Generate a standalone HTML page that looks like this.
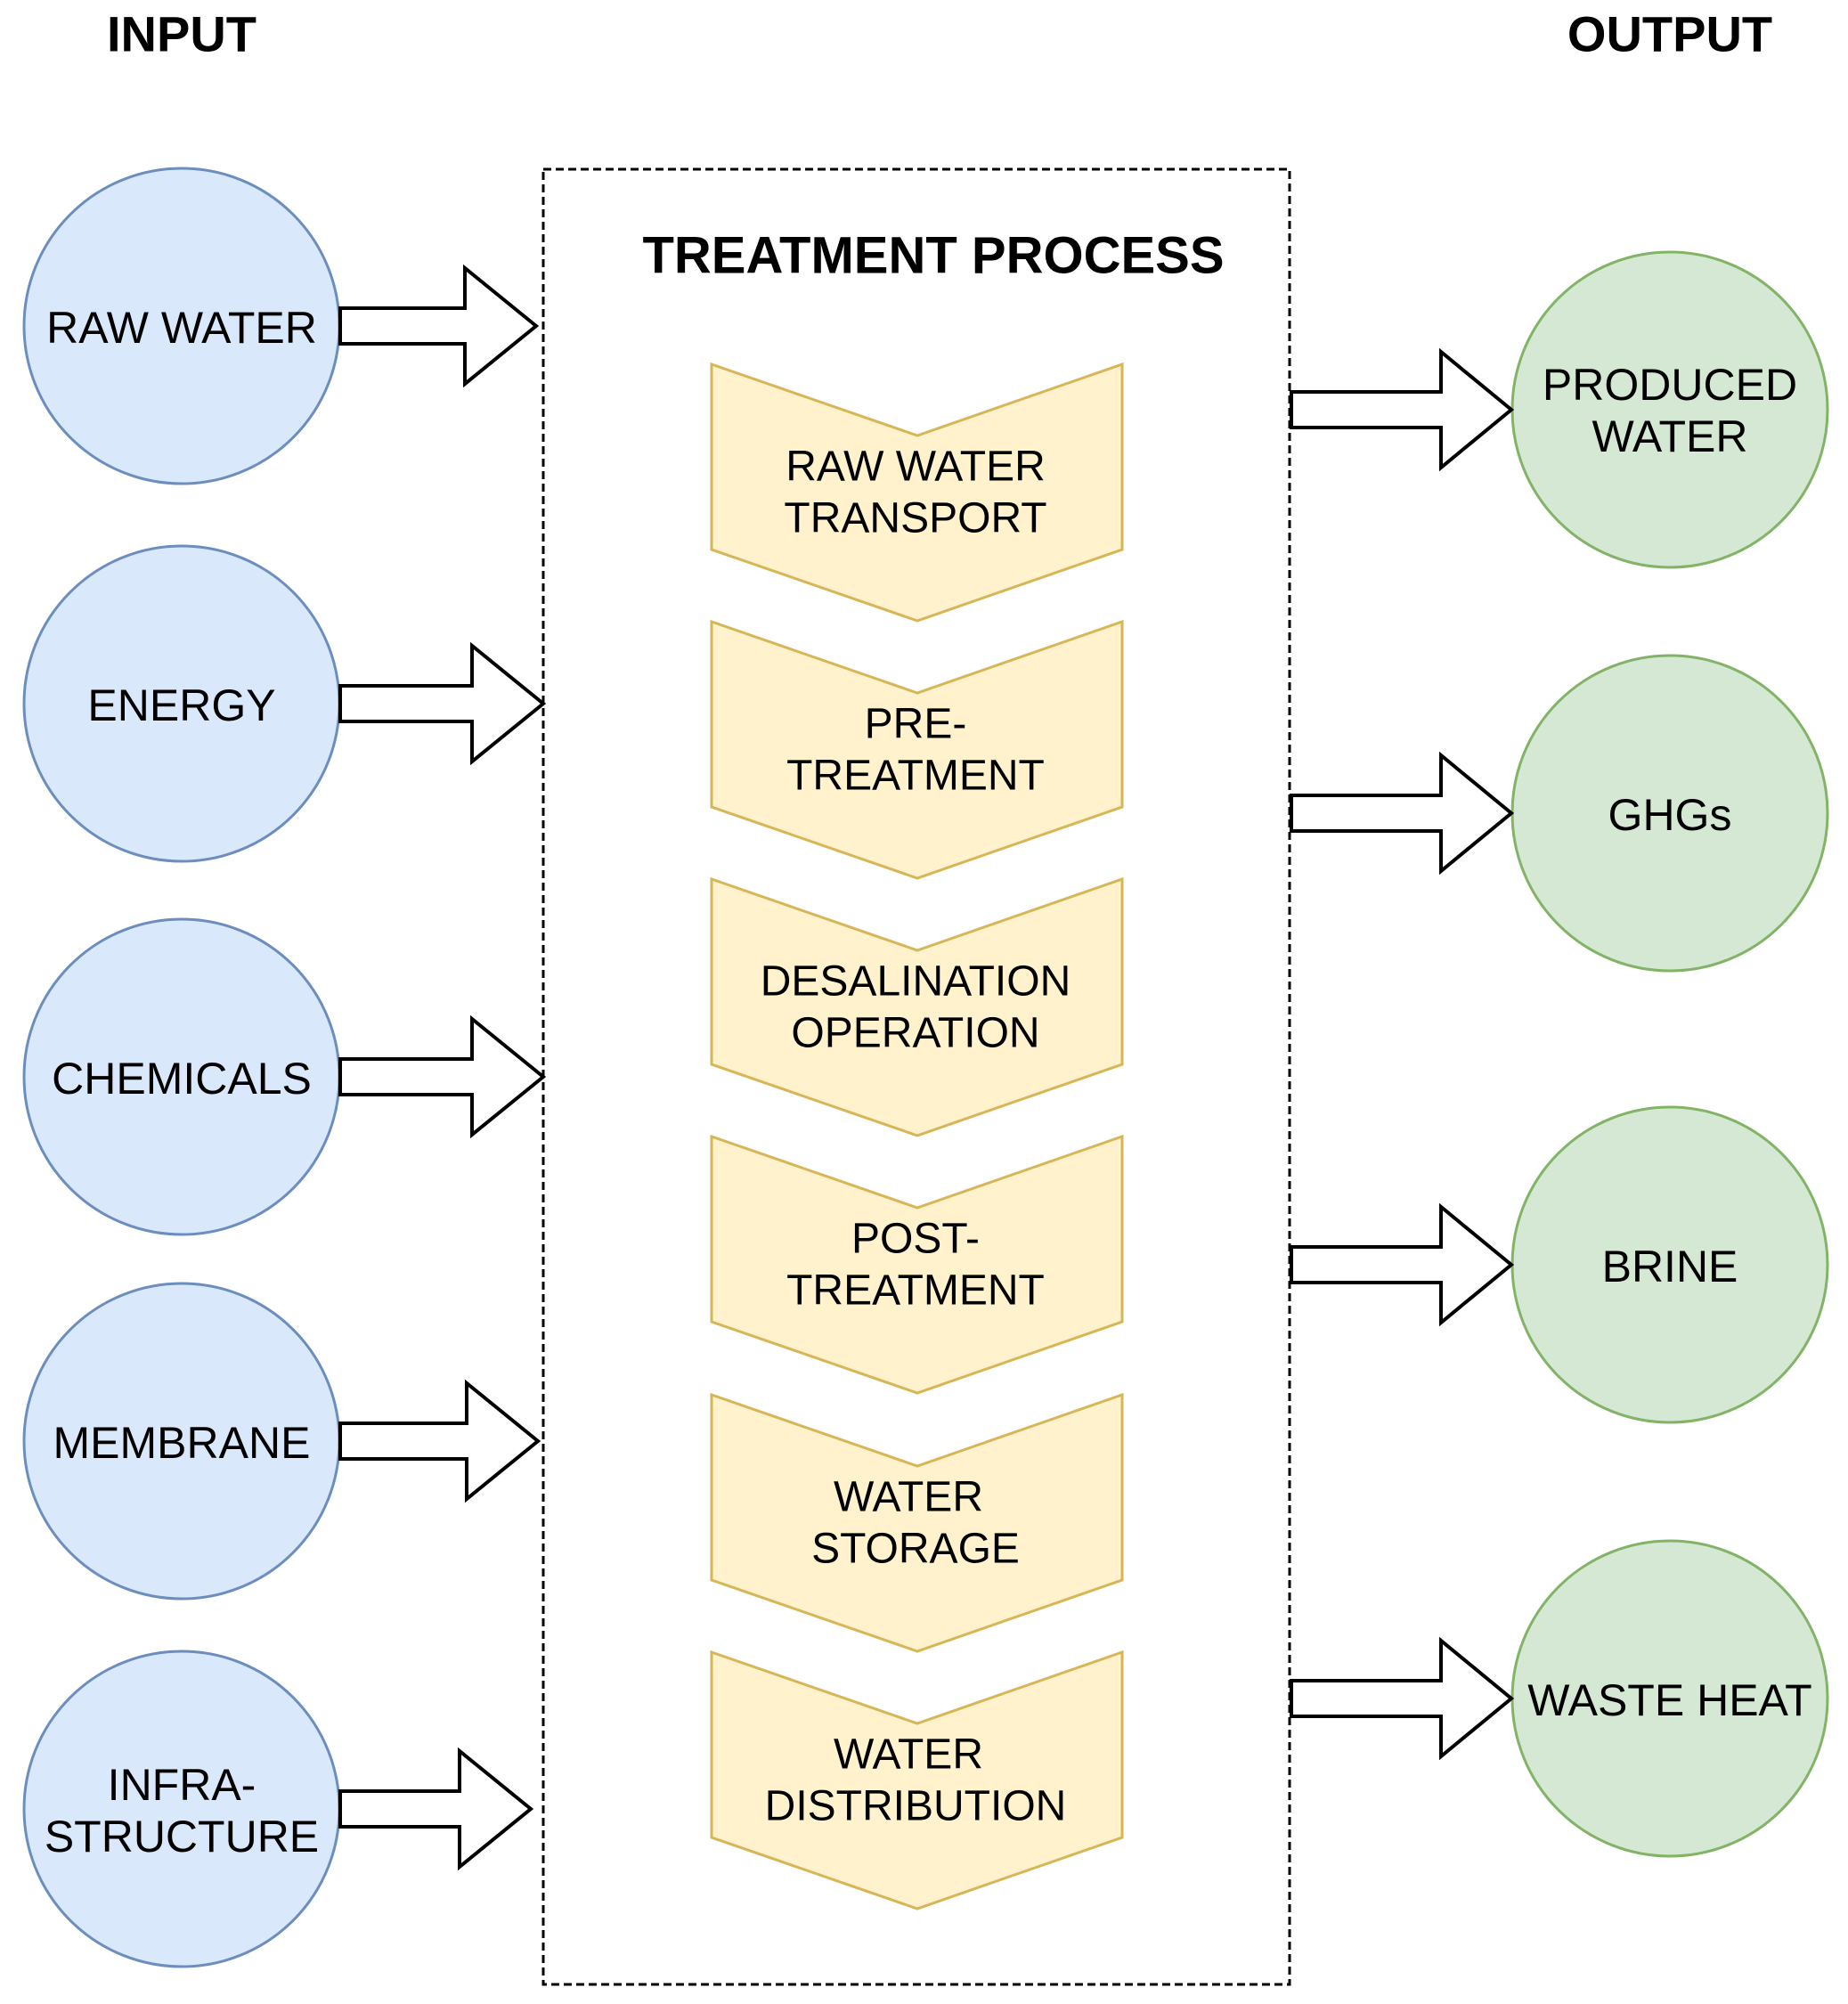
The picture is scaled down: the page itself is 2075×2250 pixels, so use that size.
<!DOCTYPE html>
<html><head><meta charset="utf-8"><style>
html,body{margin:0;padding:0;background:#fff}
svg{display:block}
text{font-family:"Liberation Sans",Arial,sans-serif;fill:#000;text-anchor:middle;dominant-baseline:central}
</style></head><body>
<svg width="2075" height="2250" viewBox="0 0 2075 2250" xmlns="http://www.w3.org/2000/svg">
<text x="204" y="38" font-size="56" font-weight="bold">INPUT</text>
<text x="1875" y="38" font-size="56" font-weight="bold">OUTPUT</text>
<rect x="610" y="190" width="838" height="2038" fill="none" stroke="#000" stroke-width="3" stroke-dasharray="9,5"/>
<text x="1048" y="287" font-size="58" font-weight="bold">TREATMENT PROCESS</text>

<g fill="#dae8fc" stroke="#6c8ebf" stroke-width="3">
<circle cx="204" cy="366" r="177"/>
<circle cx="204" cy="790" r="177"/>
<circle cx="204" cy="1209" r="177"/>
<circle cx="204" cy="1618" r="177"/>
<circle cx="204" cy="2031" r="177"/>
</g>
<g font-size="50">
<text x="204" y="368">RAW WATER</text>
<text x="204" y="792">ENERGY</text>
<text x="204" y="1211">CHEMICALS</text>
<text x="204" y="1620">MEMBRANE</text>
<text x="204" y="2004">INFRA-</text>
<text x="204" y="2062">STRUCTURE</text>
</g>

<g fill="#d5e8d4" stroke="#82b366" stroke-width="3">
<circle cx="1875" cy="460" r="177"/>
<circle cx="1875" cy="913" r="177"/>
<circle cx="1875" cy="1420" r="177"/>
<circle cx="1875" cy="1907" r="177"/>
</g>
<g font-size="50">
<text x="1875" y="432">PRODUCED</text>
<text x="1875" y="490">WATER</text>
<text x="1875" y="915">GHGs</text>
<text x="1875" y="1422">BRINE</text>
<text x="1875" y="1909">WASTE HEAT</text>
</g>

<g fill="#fff" stroke="#000" stroke-width="4" stroke-linejoin="miter">
<path d="M382 346 H522 V301 L602 366 L522 431 V386 H382 Z"/>
<path d="M382 770 H530 V725 L610 790 L530 855 V810 H382 Z"/>
<path d="M382 1189 H530 V1144 L610 1209 L530 1274 V1229 H382 Z"/>
<path d="M382 1598 H524 V1553 L604 1618 L524 1683 V1638 H382 Z"/>
<path d="M382 2011 H516 V1966 L596 2031 L516 2096 V2051 H382 Z"/>
<path d="M1450 440 H1618 V395 L1697 460 L1618 525 V480 H1450 Z"/>
<path d="M1450 893 H1618 V848 L1697 913 L1618 978 V933 H1450 Z"/>
<path d="M1450 1400 H1618 V1355 L1697 1420 L1618 1485 V1440 H1450 Z"/>
<path d="M1450 1887 H1618 V1842 L1697 1907 L1618 1972 V1927 H1450 Z"/>
</g>

<g fill="#fff2cc" stroke="#d6b656" stroke-width="3">
<path d="M799 409 L1030 489 L1260 409 V617 L1030 697 L799 617 Z"/>
<path d="M799 698 L1030 778 L1260 698 V906 L1030 986 L799 906 Z"/>
<path d="M799 987 L1030 1067 L1260 987 V1195 L1030 1275 L799 1195 Z"/>
<path d="M799 1276 L1030 1356 L1260 1276 V1484 L1030 1564 L799 1484 Z"/>
<path d="M799 1566 L1030 1646 L1260 1566 V1774 L1030 1854 L799 1774 Z"/>
<path d="M799 1855 L1030 1935 L1260 1855 V2063 L1030 2143 L799 2063 Z"/>
</g>
<g font-size="48">
<text x="1028" y="524">RAW WATER</text>
<text x="1028" y="582">TRANSPORT</text>
<text x="1028" y="813">PRE-</text>
<text x="1028" y="871">TREATMENT</text>
<text x="1028" y="1102">DESALINATION</text>
<text x="1028" y="1160">OPERATION</text>
<text x="1028" y="1391">POST-</text>
<text x="1028" y="1449">TREATMENT</text>
<text x="1020" y="1681">WATER</text>
<text x="1028" y="1739">STORAGE</text>
<text x="1020" y="1970">WATER</text>
<text x="1028" y="2028">DISTRIBUTION</text>
</g>
</svg>
</body></html>
